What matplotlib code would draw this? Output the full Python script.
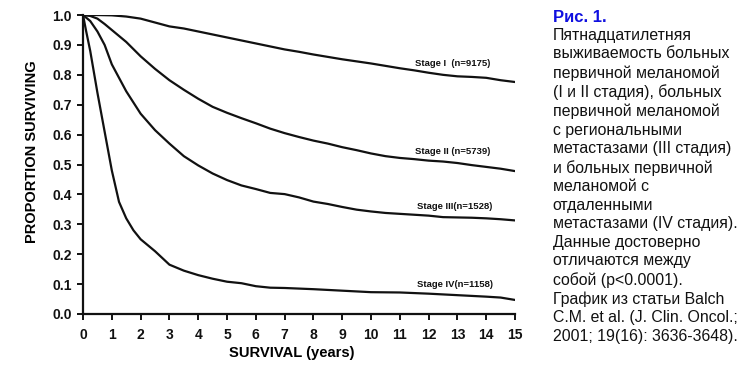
import matplotlib
matplotlib.use("Agg")
import matplotlib.pyplot as plt

plt.rcParams['font.family'] = ['Liberation Sans', 'DejaVu Sans']

# ---- data ----
years_1 = [0, 0.5, 1, 1.5, 2, 2.5, 3, 3.5, 4, 4.5, 5, 5.5, 6, 6.5, 7, 7.5, 8, 8.5, 9, 9.5,
           10, 10.5, 11, 11.5, 12, 12.5, 13, 13.5, 14, 14.5, 15]
stage1 = [1.0, 1.0, 0.999, 0.995, 0.988, 0.975, 0.962, 0.955, 0.945, 0.935, 0.925, 0.915,
          0.905, 0.895, 0.885, 0.877, 0.868, 0.86, 0.852, 0.845, 0.838, 0.83, 0.822, 0.815,
          0.807, 0.80, 0.795, 0.793, 0.79, 0.782, 0.776]

years_2 = [0, 0.25, 0.5, 0.75, 1, 1.5, 2, 2.5, 3, 3.5, 4, 4.5, 5, 5.5, 6, 6.5, 7, 7.5, 8, 8.5,
           9, 9.5, 10, 10.5, 11, 11.5, 12, 12.5, 13, 13.5, 14, 14.5, 15]
stage2 = [1.0, 0.997, 0.988, 0.97, 0.95, 0.91, 0.862, 0.82, 0.782, 0.75, 0.72, 0.693, 0.673,
          0.655, 0.638, 0.62, 0.605, 0.592, 0.58, 0.57, 0.558, 0.548, 0.537, 0.528, 0.522,
          0.518, 0.513, 0.51, 0.505, 0.498, 0.492, 0.486, 0.478]

years_3 = [0, 0.25, 0.5, 0.75, 1, 1.5, 2, 2.5, 3, 3.5, 4, 4.5, 5, 5.5, 6, 6.5, 7, 7.5, 8, 8.5,
           9, 9.5, 10, 10.5, 11, 11.5, 12, 12.5, 13, 13.5, 14, 14.5, 15]
stage3 = [1.0, 0.98, 0.945, 0.9, 0.835, 0.745, 0.67, 0.615, 0.57, 0.528, 0.497, 0.47, 0.448,
          0.43, 0.418, 0.405, 0.401, 0.39, 0.376, 0.368, 0.358, 0.349, 0.343, 0.338, 0.335,
          0.332, 0.329, 0.324, 0.323, 0.322, 0.32, 0.317, 0.313]

years_4 = [0, 0.1, 0.25, 0.5, 0.75, 1, 1.25, 1.5, 1.75, 2, 2.5, 3, 3.5, 4, 4.5, 5, 5.5, 6,
           6.5, 7, 8, 9, 10, 11, 12, 13, 14, 14.5, 15]
stage4 = [1.0, 0.95, 0.88, 0.74, 0.61, 0.48, 0.375, 0.32, 0.28, 0.25, 0.21, 0.165, 0.145,
          0.13, 0.118, 0.108, 0.103, 0.093, 0.088, 0.087, 0.083, 0.078, 0.073, 0.072, 0.068,
          0.063, 0.058, 0.055, 0.047]

labels = ["Stage I  (n=9175)", "Stage II (n=5739)", "Stage III(n=1528)", "Stage IV(n=1158)"]
label_x = [11.53, 11.53, 11.58, 11.58]
label_y = [0.839, 0.545, 0.361, 0.097]

x_ticks = list(range(0, 16))
y_ticks = [round(0.1 * i, 1) for i in range(11)]

caption_title = "Рис. 1."
caption_body = ("Пятнадцатилетняя\nвыживаемость больных\nпервичной меланомой\n"
                "(I и II стадия), больных\nпервичной меланомой\nс региональными\n"
                "метастазами (III стадия)\nи больных первичной\nмеланомой с\nотдаленными\n"
                "метастазами (IV стадия).\nДанные достоверно\nотличаются между\n"
                "собой (p<0.0001).\nГрафик из статьи Balch\nC.M. et al. (J. Clin. Oncol.;\n"
                "2001; 19(16): 3636-3648).")

# ---- figure ----
fig = plt.figure(figsize=(7.5, 3.76), dpi=100)
ax = fig.add_axes([0.1107, 0.1649, 0.576, 0.7951])

for xs, ys in [(years_1, stage1), (years_2, stage2), (years_3, stage3), (years_4, stage4)]:
    ax.plot(xs, ys, color='#111111', lw=1.6, solid_joinstyle='round')

for t, lx, ly in zip(labels, label_x, label_y):
    ax.text(lx, ly, t, fontsize=6.8, fontweight='bold', ha='left', va='center', color='#111111')

ax.set_xlim(0, 15)
ax.set_ylim(0, 1)
ax.set_xticks(x_ticks)
ax.set_xticklabels([str(v) for v in x_ticks])
ax.set_yticks(y_ticks)
ax.set_yticklabels([f"{v:.1f}" for v in y_ticks])
for s in ['top', 'right']:
    ax.spines[s].set_visible(False)
for s in ['left', 'bottom']:
    ax.spines[s].set_linewidth(1.6)
    ax.spines[s].set_color('#111111')
ax.tick_params(axis='both', direction='out', length=4, width=1.4, labelsize=10,
               colors='#111111')
ax.tick_params(axis='y', pad=4)
ax.tick_params(axis='x', pad=6)
for lab in ax.get_xticklabels() + ax.get_yticklabels():
    lab.set_fontweight('bold')

ax.set_xlabel("SURVIVAL (years)", fontsize=10.6, fontweight='bold')
ax.xaxis.label.set_va('center')
ax.xaxis.set_label_coords(0.484, -0.132)
ax.set_ylabel("PROPORTION SURVIVING", fontsize=10.5, fontweight='bold')
ax.yaxis.label.set_va('center')
ax.yaxis.set_label_coords(-0.118, 0.542)

fig.text(0.737, 1 - 17 / 376, caption_title, fontsize=12, fontweight='bold', color='#1010e0',
         ha='left', va='center')
fig.text(0.737, 1 - 28 / 376, caption_body, fontsize=11.4, color='#111111', ha='left', va='top',
         linespacing=1.29)

fig.savefig("out.png", dpi=100, facecolor='white')
